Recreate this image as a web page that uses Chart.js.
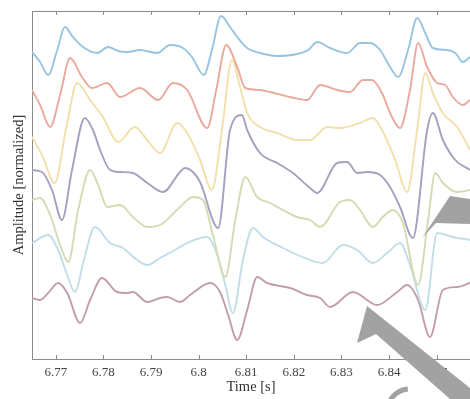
<!DOCTYPE html>
<html>
<head>
<meta charset="utf-8">
<script src="https://cdn.jsdelivr.net/npm/chart.js@4.4.0/dist/chart.umd.min.js"></script>
<style>
    html, body { margin: 0; padding: 0; background: #fff; }
    #traces { filter: blur(0.45px); }
</style>
</head>
<body>
<canvas id="traces" width="470" height="399"></canvas>
<script>
// tick labels on the time axis
var tickVals = [6.77, 6.78, 6.79, 6.8, 6.81, 6.82, 6.83, 6.84, 6.85]
var tickLabels = ["6.77", "6.78", "6.79", "6.8", "6.81", "6.82", "6.83", "6.84", "6.85"]

// seven stacked channels, top to bottom (time [s], stacked amplitude)
var t1 = [6.7650, 6.7667, 6.7684, 6.7703, 6.7719, 6.7736, 6.7757, 6.7787, 6.7810, 6.7831, 6.7850, 6.7877, 6.7913, 6.7940, 6.7967, 6.7986, 6.8011, 6.8028, 6.8047, 6.8066, 6.8081, 6.8102, 6.8129, 6.8165, 6.8207, 6.8230, 6.8249, 6.8276, 6.8312, 6.8339, 6.8360, 6.8381, 6.8402, 6.8419, 6.8440, 6.8459, 6.8476, 6.8492, 6.8522, 6.8539, 6.8555, 6.8570]
var ch1 = [3.07, 2.97, 2.84, 3.09, 3.32, 3.22, 3.12, 3.06, 3.12, 3.08, 3.07, 3.09, 3.06, 3.14, 3.11, 3.02, 2.84, 3.09, 3.43, 3.32, 3.22, 3.11, 3.06, 3.03, 3.05, 3.09, 3.17, 3.11, 3.06, 3.16, 3.16, 3.09, 2.92, 2.82, 3.09, 3.41, 3.26, 3.11, 3.09, 3.06, 2.97, 3.02]

var t2 = [6.7650, 6.7667, 6.7688, 6.7709, 6.7730, 6.7755, 6.7776, 6.7808, 6.7835, 6.7877, 6.7915, 6.7946, 6.7976, 6.8018, 6.8037, 6.8058, 6.8081, 6.8098, 6.8129, 6.8150, 6.8192, 6.8228, 6.8255, 6.8291, 6.8318, 6.8345, 6.8364, 6.8385, 6.8406, 6.8423, 6.8444, 6.8461, 6.8480, 6.8501, 6.8518, 6.8534, 6.8555, 6.8570]
var ch2 = [2.69, 2.54, 2.32, 2.64, 3.01, 2.82, 2.71, 2.76, 2.62, 2.71, 2.59, 2.76, 2.69, 2.31, 2.69, 3.14, 2.92, 2.71, 2.69, 2.67, 2.62, 2.59, 2.74, 2.69, 2.67, 2.79, 2.79, 2.66, 2.42, 2.31, 2.69, 3.16, 2.92, 2.76, 2.74, 2.62, 2.54, 2.59]

var t3 = [6.7650, 6.7671, 6.7698, 6.7721, 6.7745, 6.7772, 6.7799, 6.7831, 6.7866, 6.7892, 6.7919, 6.7955, 6.7976, 6.8003, 6.8028, 6.8049, 6.8070, 6.8087, 6.8102, 6.8129, 6.8165, 6.8207, 6.8234, 6.8270, 6.8297, 6.8339, 6.8366, 6.8385, 6.8413, 6.8438, 6.8459, 6.8476, 6.8492, 6.8513, 6.8543, 6.8570]
var ch3 = [2.22, 2.04, 1.76, 2.29, 2.76, 2.59, 2.42, 2.17, 2.32, 2.19, 2.06, 2.36, 2.26, 1.99, 1.69, 2.29, 2.99, 2.72, 2.46, 2.32, 2.26, 2.19, 2.19, 2.32, 2.31, 2.36, 2.41, 2.29, 1.99, 1.67, 2.29, 2.86, 2.66, 2.46, 2.32, 2.09]

var t4 = [6.7650, 6.7671, 6.7692, 6.7713, 6.7734, 6.7761, 6.7778, 6.7793, 6.7814, 6.7835, 6.7862, 6.7892, 6.7925, 6.7961, 6.7971, 6.7988, 6.8003, 6.8041, 6.8066, 6.8091, 6.8102, 6.8129, 6.8165, 6.8198, 6.8234, 6.8249, 6.8291, 6.8312, 6.8333, 6.8354, 6.8381, 6.8402, 6.8423, 6.8450, 6.8480, 6.8492, 6.8513, 6.8539, 6.8570]
var ch4 = [1.89, 1.87, 1.69, 1.39, 1.89, 2.41, 2.29, 2.09, 1.89, 1.87, 1.86, 1.76, 1.67, 1.87, 1.91, 1.87, 1.77, 1.31, 2.29, 2.44, 2.29, 2.06, 1.96, 1.86, 1.71, 1.66, 1.96, 1.97, 1.86, 1.87, 1.84, 1.72, 1.52, 1.21, 2.29, 2.46, 2.19, 1.99, 1.89]

var t5 = [6.7650, 6.7667, 6.7688, 6.7709, 6.7726, 6.7747, 6.7772, 6.7789, 6.7808, 6.7835, 6.7862, 6.7892, 6.7919, 6.7961, 6.7988, 6.8009, 6.8030, 6.8056, 6.8077, 6.8098, 6.8123, 6.8150, 6.8177, 6.8207, 6.8234, 6.8255, 6.8297, 6.8318, 6.8339, 6.8366, 6.8387, 6.8408, 6.8429, 6.8461, 6.8482, 6.8497, 6.8513, 6.8543, 6.8570]
var ch5 = [1.59, 1.61, 1.44, 1.14, 0.97, 1.49, 1.89, 1.74, 1.52, 1.54, 1.42, 1.32, 1.34, 1.52, 1.62, 1.59, 1.24, 0.82, 1.39, 1.82, 1.62, 1.56, 1.49, 1.42, 1.39, 1.32, 1.57, 1.59, 1.49, 1.32, 1.42, 1.49, 1.36, 0.74, 1.39, 1.86, 1.76, 1.67, 1.69]

var t6 = [6.7650, 6.7684, 6.7705, 6.7724, 6.7740, 6.7759, 6.7782, 6.7814, 6.7841, 6.7871, 6.7892, 6.7919, 6.7950, 6.7976, 6.8018, 6.8039, 6.8056, 6.8072, 6.8093, 6.8114, 6.8135, 6.8177, 6.8234, 6.8261, 6.8303, 6.8333, 6.8366, 6.8396, 6.8423, 6.8444, 6.8476, 6.8501, 6.8534, 6.8570]
var ch6 = [1.16, 1.24, 1.09, 0.84, 0.67, 0.99, 1.32, 1.16, 1.11, 0.99, 0.94, 1.01, 1.09, 1.16, 1.22, 1.04, 0.74, 0.46, 0.99, 1.31, 1.22, 1.11, 0.99, 0.96, 1.14, 1.09, 0.96, 1.06, 1.16, 0.94, 0.49, 1.26, 1.22, 1.19]

var t7 = [6.7650, 6.7667, 6.7684, 6.7705, 6.7724, 6.7751, 6.7772, 6.7797, 6.7829, 6.7850, 6.7862, 6.7892, 6.7919, 6.7934, 6.7961, 6.7982, 6.8024, 6.8045, 6.8062, 6.8081, 6.8102, 6.8123, 6.8144, 6.8192, 6.8228, 6.8255, 6.8276, 6.8324, 6.8375, 6.8417, 6.8438, 6.8461, 6.8486, 6.8513, 6.8543, 6.8570]
var ch7 = [0.61, 0.59, 0.66, 0.76, 0.66, 0.36, 0.59, 0.81, 0.67, 0.66, 0.67, 0.57, 0.61, 0.62, 0.57, 0.64, 0.76, 0.67, 0.44, 0.19, 0.49, 0.82, 0.76, 0.71, 0.64, 0.61, 0.52, 0.67, 0.54, 0.67, 0.74, 0.59, 0.22, 0.69, 0.72, 0.76]

var times = [t1, t2, t3, t4, t5, t6, t7]
var channels = [ch1, ch2, ch3, ch4, ch5, ch6, ch7]
var colors = ["#98c4e0", "#e9a99c", "#f1e0ac", "#a89fbf", "#d2dbb2", "#c0dde8", "#c29dac"]

var serif = "'Liberation Serif', 'Times New Roman', serif"

function pairs(ts, vs) {
    return ts.map(function (t, i) { return { x: t, y: vs[i] } })
}

// box edge on top plus inward tick marks on top and bottom
var frame = {
    id: "frame",
    afterDraw: function (chart) {
        var ctx = chart.ctx
        var area = chart.chartArea
        var xs = chart.scales.x
        ctx.save()
        ctx.strokeStyle = "#8c8c8c"
        ctx.lineWidth = 1
        ctx.beginPath()
        ctx.moveTo(area.left, area.top + 0.5)
        ctx.lineTo(area.right, area.top + 0.5)
        tickVals.forEach(function (v) {
            var px = Math.round(xs.getPixelForValue(v)) + 0.5
            ctx.moveTo(px, area.top)
            ctx.lineTo(px, area.top + 4)
            ctx.moveTo(px, area.bottom)
            ctx.lineTo(px, area.bottom - 4)
        })
        ctx.stroke()
        ctx.restore()
    },
}

// grey stamp shapes lying over the lower right corner
var stamp = {
    id: "stamp",
    afterDraw: function (chart) {
        var ctx = chart.ctx
        ctx.save()
        ctx.fillStyle = "#a2a2a2"
        ctx.beginPath()
        ctx.moveTo(450, 196)
        ctx.lineTo(470, 199)
        ctx.lineTo(470, 224)
        ctx.lineTo(436, 223)
        ctx.lineTo(422, 238)
        ctx.closePath()
        ctx.fill()
        ctx.beginPath()
        ctx.moveTo(367, 306)
        ctx.lineTo(470, 388)
        ctx.lineTo(470, 399)
        ctx.lineTo(450, 399)
        ctx.lineTo(376, 334)
        ctx.lineTo(357, 343)
        ctx.closePath()
        ctx.fill()
        ctx.strokeStyle = "#a2a2a2"
        ctx.lineWidth = 5
        ctx.beginPath()
        ctx.arc(410, 412, 23, Math.PI * 1.12, Math.PI * 1.47)
        ctx.stroke()
        ctx.restore()
    },
}

new Chart("traces", {
    type: "line",
    data: {
        datasets: channels.map(function (vs, i) {
            return {
                data: pairs(times[i], vs),
                borderColor: colors[i],
                borderWidth: 1.9,
                pointRadius: 0,
                fill: false,
                cubicInterpolationMode: "monotone",
            }
        }),
    },
    options: {
        responsive: false,
        animation: false,
        devicePixelRatio: 1,
        layout: { padding: { top: 11, left: 0, right: 0, bottom: 0 } },
        plugins: {
            legend: { display: false },
            tooltip: { enabled: false },
        },
        scales: {
            x: {
                type: "linear",
                min: 6.765,
                max: 6.857,
                afterBuildTicks: function (scale) {
                    scale.ticks = tickVals.map(function (v) { return { value: v } })
                },
                afterFit: function (scale) { scale.height = 40 },
                ticks: {
                    autoSkip: false,
                    maxRotation: 0,
                    padding: 6,
                    color: "#444",
                    font: { family: serif, size: 13 },
                    callback: function (v, i) { return tickLabels[i] },
                },
                grid: { display: false, drawTicks: false },
                border: { display: true, color: "#8c8c8c", width: 1 },
                title: {
                    display: true,
                    text: "Time [s]",
                    color: "#333",
                    font: { family: serif, size: 14.5 },
                    padding: { top: 0, bottom: 3 },
                },
            },
            y: {
                min: 0,
                max: 3.48,
                afterFit: function (scale) { scale.width = 32 },
                ticks: { display: false },
                grid: { display: false, drawTicks: false },
                border: { display: true, color: "#8c8c8c", width: 1 },
                title: {
                    display: true,
                    text: "Amplitude [normalized]",
                    color: "#333",
                    font: { family: serif, size: 14.5 },
                    padding: { top: 10, bottom: 0 },
                },
            },
        },
    },
    plugins: [frame, stamp],
})
</script>
</body>
</html>
